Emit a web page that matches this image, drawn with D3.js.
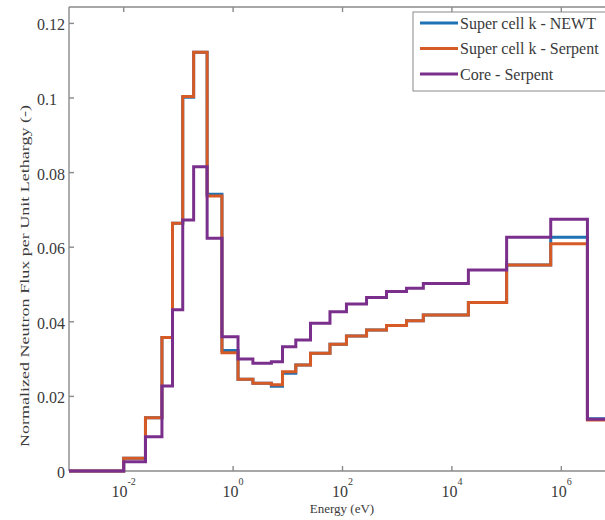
<!DOCTYPE html>
<html>
<head>
<meta charset="utf-8">
<script src="https://cdn.jsdelivr.net/npm/d3@7"></script>
<style>
  html, body { margin: 0; padding: 0; background: #fff; }
  svg { display: block; }
</style>
</head>
<body>
<svg id="chart" width="605" height="520"></svg>
<script>
// Group boundaries (eV) and flux per unit lethargy in each group
const energyEdges = [1e-5, 0.01, 0.025, 0.05, 0.078, 0.12, 0.19, 0.335, 0.625, 1.23, 2.3,
  5, 8, 14, 26, 59, 118, 275, 637, 1480, 3000, 2e4, 1e5, 6.4e5, 3e6, 2e7];

const fluxSuperCellNewt = [0, 0.0034, 0.0143, 0.0358, 0.0664, 0.1002, 0.1123, 0.0742, 0.0323,
  0.0246, 0.0235, 0.0227, 0.0262, 0.0284, 0.0316, 0.0340, 0.0362, 0.0378, 0.0390, 0.0403,
  0.0418, 0.0452, 0.0552, 0.0627, 0.0140];

const fluxSuperCellSerpent = [0, 0.0034, 0.0143, 0.0358, 0.0664, 0.1004, 0.1123, 0.0737, 0.0317,
  0.0246, 0.0235, 0.0231, 0.0266, 0.0284, 0.0316, 0.0340, 0.0362, 0.0378, 0.0390, 0.0403,
  0.0418, 0.0452, 0.0552, 0.0609, 0.0137];

const fluxCoreSerpent = [0, 0.0025, 0.0092, 0.0228, 0.0432, 0.0673, 0.0816, 0.0624, 0.0360,
  0.0300, 0.0289, 0.0293, 0.0333, 0.0351, 0.0396, 0.0427, 0.0448, 0.0465, 0.0481, 0.0490,
  0.0503, 0.0539, 0.0627, 0.0675, 0.0139];

const seriesNames = ["Super cell k - NEWT", "Super cell k - Serpent", "Core - Serpent"];
const seriesColors = ["#1f72b4", "#d65a26", "#7a2f8c"];

const yTicks = [0, 0.02, 0.04, 0.06, 0.08, 0.1, 0.12];
const yTickLabels = ["0", "0.02", "0.04", "0.06", "0.08", "0.1\u2007", "0.12"];
const xTicks = [1e-2, 1e0, 1e2, 1e4, 1e6];
const xTickExponents = ["-2", "0", "2", "4", "6"];

const serif = "Liberation Serif";
const svg = d3.select("#chart");
const axisColor = "#8a8a8a";
const textColor = "#3a3a3a";

const plot = { left: 69, top: 7, right: 632.5, bottom: 471 };

const x = d3.scaleLog().domain([1e-3, 2e7]).range([plot.left, plot.right]);
const y = d3.scaleLinear().domain([0, 0.1244]).range([plot.bottom, plot.top]);

svg.append("defs").append("clipPath").attr("id", "plot-clip")
  .append("rect")
  .attr("x", plot.left).attr("y", plot.top - 3)
  .attr("width", plot.right - plot.left).attr("height", plot.bottom - plot.top + 6);

// Frame (left, bottom, top)
const frame = svg.append("g").attr("stroke", axisColor).attr("stroke-width", 1.4).attr("fill", "none");
frame.append("line").attr("x1", plot.left).attr("x2", plot.left).attr("y1", plot.top).attr("y2", plot.bottom);
frame.append("line").attr("x1", plot.left).attr("x2", plot.right).attr("y1", plot.bottom).attr("y2", plot.bottom);
frame.append("line").attr("x1", plot.left).attr("x2", plot.right).attr("y1", plot.top).attr("y2", plot.top);

// Ticks on all visible sides, pointing inward
const tickLen = 5;
xTicks.forEach(t => {
  frame.append("line").attr("x1", x(t)).attr("x2", x(t)).attr("y1", plot.bottom).attr("y2", plot.bottom - tickLen);
  frame.append("line").attr("x1", x(t)).attr("x2", x(t)).attr("y1", plot.top).attr("y2", plot.top + tickLen);
});
yTicks.forEach(t => {
  frame.append("line").attr("x1", plot.left).attr("x2", plot.left + tickLen).attr("y1", y(t)).attr("y2", y(t));
});

// Y tick labels
svg.append("g").selectAll("text").data(yTicks).join("text")
  .attr("font-family", serif)
  .attr("x", 65).attr("y", d => y(d) + 7)
  .attr("text-anchor", "end").attr("font-size", 16).attr("fill", textColor)
  .text((d, i) => yTickLabels[i]);

// X tick labels as powers of ten
const xl = svg.append("g");
xTicks.forEach((t, i) => {
  const txt = xl.append("text")
    .attr("font-family", serif)
    .attr("x", x(t)).attr("y", 497)
    .attr("text-anchor", "middle").attr("font-size", 16).attr("fill", textColor);
  txt.append("tspan").text("10");
  txt.append("tspan").attr("font-size", 10).attr("dy", -12).text(xTickExponents[i]);
});

// Axis titles
svg.append("text")
  .attr("font-family", serif)
  .attr("x", 342).attr("y", 513)
  .attr("text-anchor", "middle").attr("font-size", 13).attr("fill", textColor)
  .text("Energy (eV)");

svg.append("text")
  .attr("font-family", serif)
  .attr("transform", "translate(29,276) rotate(-90)")
  .attr("text-anchor", "middle").attr("font-size", 13).attr("fill", textColor)
  .attr("textLength", 342).attr("lengthAdjust", "spacingAndGlyphs")
  .text("Normalized Neutron Flux per Unit Lethargy (-)");

// Step curves
const step = d3.line()
  .x(d => x(d[0]))
  .y(d => y(d[1]))
  .curve(d3.curveStepAfter);

const allSeries = [fluxSuperCellNewt, fluxSuperCellSerpent, fluxCoreSerpent];
const lines = svg.append("g").attr("clip-path", "url(#plot-clip)");
allSeries.forEach((vals, k) => {
  const pts = energyEdges.map((e, i) => [e, vals[Math.min(i, vals.length - 1)]]);
  lines.append("path")
    .attr("d", step(pts))
    .attr("fill", "none")
    .attr("stroke", seriesColors[k])
    .attr("stroke-width", 3)
    .attr("stroke-linejoin", "miter");
});

// Legend
const legend = svg.append("g");
legend.append("rect")
  .attr("x", 413).attr("y", 12).attr("width", 210).attr("height", 79)
  .attr("fill", "#fff").attr("stroke", axisColor).attr("stroke-width", 1);
seriesNames.forEach((name, i) => {
  const cy = 23 + i * 25.5;
  legend.append("line")
    .attr("x1", 420).attr("x2", 458).attr("y1", cy).attr("y2", cy)
    .attr("stroke", seriesColors[i]).attr("stroke-width", 3);
  legend.append("text")
    .attr("font-family", serif)
    .attr("x", 460).attr("y", cy + 5.5)
    .attr("font-size", 16).attr("fill", textColor)
    .text(name);
});
</script>
</body>
</html>
